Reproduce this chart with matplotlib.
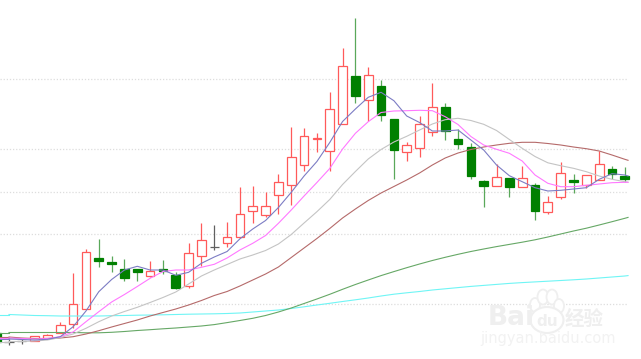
import matplotlib
matplotlib.use('Agg')
import matplotlib.pyplot as plt
from matplotlib.patches import Ellipse

# candle data (screen-height units, smaller = higher price)
candle_idx = list(range(-1, 49))
body_top = [333, 342.0, 341.0, 335.7, 335.0, 325.3, 303.7, 252.3, 258.3, 262.0, 269.0, 269.3, 270.7, 269.3, 275.0, 252.7,
            240.0, 246.5, 237.3, 214.3, 206.3, 206.3, 182.3, 157.3, 136.3, 138.3, 109.3, 66.3, 76.0, 74.7, 86.3,
            118.7, 145.3, 124.0, 106.7, 107.3, 139.3, 147.3, 181.0, 177.3, 178.0, 177.7, 185.3, 201.7, 172.7,
            180.3, 174.7, 164.0, 169.0, 176.3]
body_bot = [342, 342.6, 341.6, 341.3, 337.7, 332.7, 324.0, 309.0, 260.7, 264.3, 278.0, 272.0, 276.0, 271.3, 288.0, 286.3,
            256.3, 247.1, 242.7, 237.3, 210.5, 214.7, 195.3, 185.3, 165.3, 139.3, 151.3, 124.0, 96.3, 99.7, 115.0,
            149.7, 152.3, 148.3, 131.7, 131.0, 143.7, 176.0, 186.3, 185.7, 187.3, 186.7, 211.0, 212.0, 197.0,
            181.7, 185.3, 180.0, 173.7, 179.3]
wick_hi = [333, 339.0, 338.0, 335.7, 334.0, 322.0, 273.0, 249.0, 238.7, 256.0, 259.3, 269.0, 261.0, 260.0, 272.0, 242.7,
           223.3, 225.0, 222.3, 187.3, 186.0, 192.3, 174.3, 126.7, 128.3, 133.3, 92.0, 48.3, 18.3, 66.7, 80.0,
           118.7, 142.3, 115.7, 83.3, 102.7, 129.3, 143.3, 180.0, 164.0, 178.0, 166.0, 183.3, 195.7, 162.3,
           174.0, 174.7, 150.7, 166.0, 166.7]
wick_lo = [342, 345.0, 344.0, 341.3, 339.0, 332.7, 328.0, 309.0, 267.3, 271.7, 280.7, 281.0, 277.3, 274.3, 289.3, 287.7,
           266.0, 250.0, 246.7, 238.3, 222.7, 216.7, 214.3, 204.7, 171.0, 151.7, 171.0, 124.0, 103.3, 121.0, 121.0,
           178.7, 160.7, 157.0, 136.0, 140.0, 149.3, 178.7, 206.7, 185.7, 196.7, 186.7, 220.0, 213.7, 199.0,
           193.3, 187.7, 180.0, 179.0, 182.0]
kind = ['g', 'd', 'd', 'r', 'r', 'r', 'r', 'r', 'g', 'g', 'g', 'g', 'r', 'g', 'g', 'r',
        'r', 'd', 'r', 'r', 'r', 'r', 'r', 'r', 'r', 'r', 'r', 'r', 'g', 'r', 'g',
        'g', 'r', 'r', 'r', 'g', 'g', 'g', 'g', 'r', 'g', 'r', 'g', 'r', 'r',
        'g', 'r', 'r', 'g', 'g']

# moving averages at candles 0..48, plus the short stub after the last candle
ma_idx = list(range(0, 49)) + [48.25]
ma5 = [339, 339.5, 340, 339.3, 336.7, 326.7, 311, 291.7, 279.5, 270, 266.3, 270, 270, 275.3, 272.3, 263.3,
       257, 251.5, 238.8, 229, 220.5, 207.5, 192.3, 176, 161.5, 142.5, 121.5, 109, 97.3, 92.3, 100.7,
       116, 122.5, 131, 131, 130, 140, 150, 165, 175.7, 181.7, 187.7, 191, 190.3, 189, 187.7, 179.3, 173.7, 175, 176]
ma10 = [338, 338.5, 339, 338.5, 336.7, 332, 321.7, 311.7, 302, 294.5, 286.5, 278.3, 271.5, 270, 270, 267.3,
        264.3, 258, 250, 243.3, 235.5, 223.3, 210, 196, 182.5, 168.5, 149, 133.3, 121.7, 112.5, 111,
        110.7, 110.3, 110.7, 116.7, 124.5, 136.5, 145, 149.3, 153.3, 161, 175, 183.3, 186.7, 186.7, 185.3, 184, 182.7, 182.3, 182.3]
ma20 = [341.5, 341.5, 341, 340, 337.5, 334, 328.3, 321.7, 316, 311.5, 307.3, 302.5, 297.5, 292, 284, 276,
        270, 264.5, 259, 255, 250.5, 244, 234.5, 223, 211.7, 199.5, 184.5, 171.5, 159, 149.5, 142,
        136.3, 130, 124, 119.7, 118.3, 120.5, 124.3, 130.5, 139.5, 148.3, 156.5, 162.8, 165.7, 168.3, 171.7, 176, 179.3, 181.7, 182.2]
ma40 = [337, 338, 338.5, 338.5, 338, 336.7, 334, 330.7, 327, 323.5, 320, 316, 312.5, 309, 305, 300.5,
        295.5, 291.5, 286, 280, 274, 267, 257.5, 248, 238.5, 228.5, 218, 209, 200.5, 193, 186.5,
        180, 173, 165, 158, 153, 149.5, 147, 145, 143.3, 142.3, 142.3, 143.5, 145, 147, 148.7, 151, 155, 159.3, 160.3]
ma60 = [332.5, 332.5, 332.5, 332.5, 332.5, 332.5, 332.8, 332.8, 332.3, 331.5, 330.5, 329.7, 328.8, 328, 327, 326,
        324.6, 322.6, 320.5, 318.3, 315.5, 312, 308, 303.5, 299, 294.3, 289.3, 284.5, 280, 275.6, 271.6,
        267.7, 264, 260.5, 257.3, 254.3, 251.5, 249, 246.6, 244.4, 242.2, 239.8, 237, 234, 231, 228.2, 225, 221.7, 218.3, 217.4]
ma120 = [314.5, 315, 315.5, 315.7, 316, 316, 316, 316, 315.7, 315.5, 315.2, 315, 314.8, 314.5, 314.2, 314,
         313.8, 313.5, 313, 312, 311, 310, 308.5, 306.8, 305, 303.3, 301.5, 299.8, 298, 296, 294.2,
         292.8, 291.5, 290, 288.8, 287.6, 286.4, 285.4, 284.4, 283.4, 282.6, 281.9, 281.2, 280.5, 279.8, 279, 278, 277, 276, 275.6]
ma_colors = ['#7c7cc4', '#ff78ff', '#c4c4c4', '#b56a6a', '#66a866', '#6ff5f5']

grid_levels = [79.3, 148.8, 191.7, 234.3, 303.5]

RED = '#ff5a5a'
GREEN = '#008000'
GRAY = '#606060'

fig = plt.figure(figsize=(6.41, 3.59), dpi=100)
ax = fig.add_axes([0, 0, 1, 1])
ax.set_xlim(-0.7, 49.26)
ax.set_ylim(359, 0)
ax.axis('off')

ax.hlines(grid_levels, -0.7, 48.25, color='#dddddd', lw=0.9, linestyles=(0, (1, 1.5)), zorder=1)

for i in range(len(candle_idx)):
    x = candle_idx[i]
    c = kind[i]
    col = {'r': RED, 'g': GREEN, 'd': GRAY}[c]
    wick_col = {'r': RED, 'g': '#5aa85a', 'd': GRAY}[c]
    ax.vlines(x, wick_hi[i], wick_lo[i], color=wick_col, lw=0.9, zorder=2)
    if c == 'd':
        ax.hlines(body_top[i], x - 0.36, x + 0.36, color=GRAY, lw=0.9, zorder=3)
    else:
        face = 'white' if c == 'r' else GREEN
        ax.bar(x, body_bot[i] - body_top[i], bottom=body_top[i], width=0.68, facecolor=face,
               edgecolor=col, lw=0.9, zorder=3)

# lines run off the left edge
all_ma = [ma120, ma60, ma40, ma20, ma10, ma5]
for vals, col in zip(all_ma, ma_colors[::-1]):
    ax.plot(ma_idx, vals, color=col, lw=0.8, zorder=4)
    ax.plot([-1, 0], [vals[0], vals[0]], color=col, lw=0.8, zorder=4)

# watermark in pixel coordinates
wm = fig.add_axes([0, 0, 1, 1])
wm.set_xlim(0, 641)
wm.set_ylim(359, 0)
wm.axis('off')
wm.patch.set_alpha(0)
WM = '#efefef'
for cx, cy, w, h in [(535, 305, 10, 14), (543, 297, 11, 15), (552, 297, 11, 15), (559, 306, 10, 14)]:
    wm.add_patch(Ellipse((cx, cy), w, h, fc='white', ec=WM, lw=1.3, zorder=5))
wm.add_patch(Ellipse((547, 320), 33, 26, fc='white', ec=WM, lw=1.5, zorder=5))
wm.text(511, 318, 'Bai', color=WM, fontsize=19, fontweight='bold', ha='center', va='center', zorder=6)
wm.text(547, 321, 'du', color=WM, fontsize=11, fontweight='bold', ha='center', va='center', zorder=6)
wm.text(584, 319, '经验', color=WM, fontsize=14, fontweight='bold', family=['Noto Sans CJK SC', 'DejaVu Sans'],
        ha='center', va='center', zorder=6)
wm.text(548, 338, 'jingyan.baidu.com', color='#f2f2f2', fontsize=10.5, ha='center', va='center', zorder=6)

fig.savefig('out.png', dpi=100, facecolor='white')
